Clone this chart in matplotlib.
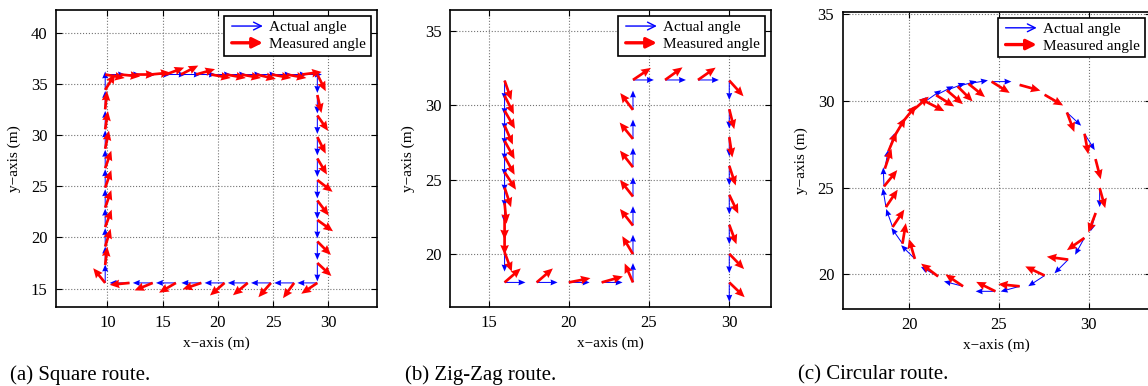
import matplotlib
matplotlib.use('Agg')
import matplotlib.pyplot as plt
import matplotlib.patches as mpatches
from matplotlib.legend_handler import HandlerPatch
import numpy as np

plt.rcParams['font.family'] = ['Liberation Serif', 'DejaVu Serif']

# ---- (a) square route: base points, actual angle, measured angle (deg)
sq_x = [9.8] * 11 + [9.8, 11.17, 12.54, 13.91, 15.28, 16.65, 18.02, 19.39, 20.76, 22.13, 23.5, 24.87, 26.24, 27.61] \
    + [29.0] * 10 + [29.0, 26.9, 24.8, 22.7, 20.6, 18.5, 16.2, 14.1, 12.0]
sq_y = [15.55, 17.3, 19.1, 21.0, 22.9, 24.85, 26.75, 28.65, 30.55, 32.5, 34.4] + [35.9] * 14 \
    + [35.9, 33.9, 31.9, 29.8, 27.7, 25.6, 23.6, 21.7, 19.6, 17.5] + [15.55] * 9
sq_actual = [90] * 11 + [0] * 14 + [-90] * 10 + [180] * 9
sq_measured = [127, 84, 74, 71, 72, 72, 72, 79, 82, 85, 60] \
    + [-11, -6, 0, 6, 22, 29, 17, -11, -11, -11, -14, -11, -11, 8] \
    + [-65, -78, -57, -65, -61, -40, -55, -38, -47, -45] \
    + [-144, -124, -129, -138, -137, -160, -148, -156, -174]

# ---- (b) zig-zag route
zz_x = [16.0] * 12 + [16.0, 18.0, 20.0, 22.05] + [24.0] * 7 + [24.0, 26.0, 28.05] + [30.0] * 8
zz_y = [31.66, 30.65, 29.64, 28.64, 27.61, 26.56, 25.51, 24.47, 23.42, 22.37, 21.34, 20.13] + [18.1] * 4 \
    + [18.1, 20.0, 21.92, 23.87, 25.84, 27.74, 29.69] + [31.7] * 3 \
    + [31.66, 29.74, 27.86, 25.93, 23.98, 21.97, 20.02, 18.1]
zz_actual = [-90] * 12 + [0] * 4 + [90] * 7 + [0] * 3 + [-90] * 8
zz_measured = [-72, -65, -62, -68, -63, -63, -59, -73, -85, -90, -90, -71] \
    + [43, 43, 12, 17] + [112, 119, 126, 126, 126, 127, 125] + [36, 38, 37] \
    + [-50, -77, -82, -73, -66, -71, -48, -46]

# ---- (c) circular route
ci_x = [24.59, 26.15, 27.54, 28.78, 29.76, 30.37, 30.60, 30.38, 29.75, 28.85, 27.54, 26.15,
        24.8, 23.0, 21.61, 20.32, 19.63, 19.08, 18.71, 18.60, 18.65, 18.85, 19.2, 19.65,
        20.2, 20.9, 21.5, 22.1, 22.7, 23.3]
ci_y = [31.12, 30.93, 30.36, 29.34, 28.11, 26.65, 24.98, 23.54, 22.10, 20.85, 19.93, 19.31,
        19.02, 19.31, 19.88, 20.89, 21.77, 22.73, 23.88, 25.07, 26.1, 27.1, 28.0, 28.8,
        29.45, 29.98, 30.34, 30.62, 30.84, 31.0]
ci_actual = [0, -15, -30, -44, -59, -75, -90, -105, -118, -134, -146, -164,
             180, 165, 150, 134, 124, 109, 99, 92, 80, 72, 62, 54,
             45, 36, 28, 22, 16, 10]
ci_measured = [-33, -16, -31, -70, -80, -76, -75, -110, -144, 172, 154, 174,
               153, 145, 142, 106, 81, 57, 57, 52, 72, 68, 60, 52,
               42, -28, -33, -42, -46, -40]


def draw(ax, x, y, actual, measured, blue_len, red_len):
    x = np.array(x)
    y = np.array(y)
    a = np.deg2rad(actual)
    m = np.deg2rad(measured)
    ax.quiver(x, y, blue_len * np.cos(a), blue_len * np.sin(a), angles='xy',
              scale_units='xy', scale=1, color='blue', units='dots', width=1.0,
              headwidth=6, headlength=7, headaxislength=6.5, zorder=3)
    ax.quiver(x, y, red_len * np.cos(m), red_len * np.sin(m), angles='xy',
              scale_units='xy', scale=1, color='red', units='dots', width=2.7,
              headwidth=3.2, headlength=3.6, headaxislength=3.3, zorder=4)


def arrow_patch(legend, orig_handle, xdescent, ydescent, width, height, fontsize):
    return mpatches.FancyArrowPatch((-xdescent, height / 2 - ydescent),
                                    (width - xdescent, height / 2 - ydescent),
                                    arrowstyle=orig_handle.get_arrowstyle(),
                                    mutation_scale=orig_handle.get_mutation_scale())


def style(ax, xlim, ylim, xticks, yticks):
    ax.set_xlim(xlim)
    ax.set_ylim(ylim)
    ax.set_xticks(xticks)
    ax.set_yticks(yticks)
    ax.grid(True, linestyle=':', color='0.45', linewidth=0.8)
    ax.set_axisbelow(True)
    ax.tick_params(direction='in', top=True, right=True, length=4, width=0.8,
                   labelsize=12, pad=6)
    for s in ax.spines.values():
        s.set_linewidth(1.2)
    ax.set_xlabel('x\u2212axis (m)', fontsize=11, labelpad=4)
    ax.set_ylabel('y\u2212axis (m)', fontsize=11, labelpad=7)
    blue = mpatches.FancyArrowPatch((0, 0), (1, 1), arrowstyle='->', mutation_scale=14,
                                    color='blue', lw=1.0)
    red = mpatches.FancyArrowPatch((0, 0), (1, 1), arrowstyle='-|>', mutation_scale=15,
                                   color='red', lw=2.4)
    leg = ax.legend([blue, red], ['Actual angle', 'Measured angle'], loc='upper right',
                    fontsize=11, fancybox=False, framealpha=1, edgecolor='black',
                    handlelength=2.4, handletextpad=0.25, borderpad=0.3,
                    labelspacing=0.2, borderaxespad=0.4,
                    handler_map={mpatches.FancyArrowPatch: HandlerPatch(patch_func=arrow_patch)})
    leg.get_frame().set_linewidth(1.2)


fig = plt.figure(figsize=(11.48, 3.86), dpi=100)

ax_a = fig.add_axes([0.0488, 0.2047, 0.2796, 0.7694])
draw(ax_a, sq_x, sq_y, sq_actual, sq_measured, 1.8, 1.8)
style(ax_a, (5.35, 34.4), (13.2, 42.2), [10, 15, 20, 25, 30], [15, 20, 25, 30, 35, 40])

ax_b = fig.add_axes([0.392, 0.2047, 0.2796, 0.7694])
draw(ax_b, zz_x, zz_y, zz_actual, zz_measured, 1.3, 1.38)
style(ax_b, (12.6, 32.6), (16.45, 36.4), [15, 20, 25, 30], [20, 25, 30, 35])

ax_c = fig.add_axes([0.734, 0.1995, 0.2685, 0.770])
draw(ax_c, ci_x, ci_y, ci_actual, ci_measured, 1.1, 1.2)
style(ax_c, (16.3, 33.45), (18.0, 35.15), [20, 25, 30], [20, 25, 30, 35])

fig.text(10 / 1148, 1 - 375 / 386, '(a) Square route.', fontsize=15, va='center')
fig.text(405 / 1148, 1 - 375 / 386, '(b) Zig-Zag route.', fontsize=15, va='center')
fig.text(798 / 1148, 1 - 375 / 386, '(c) Circular route.', fontsize=15, va='center')

fig.savefig('out.png', dpi=100)
